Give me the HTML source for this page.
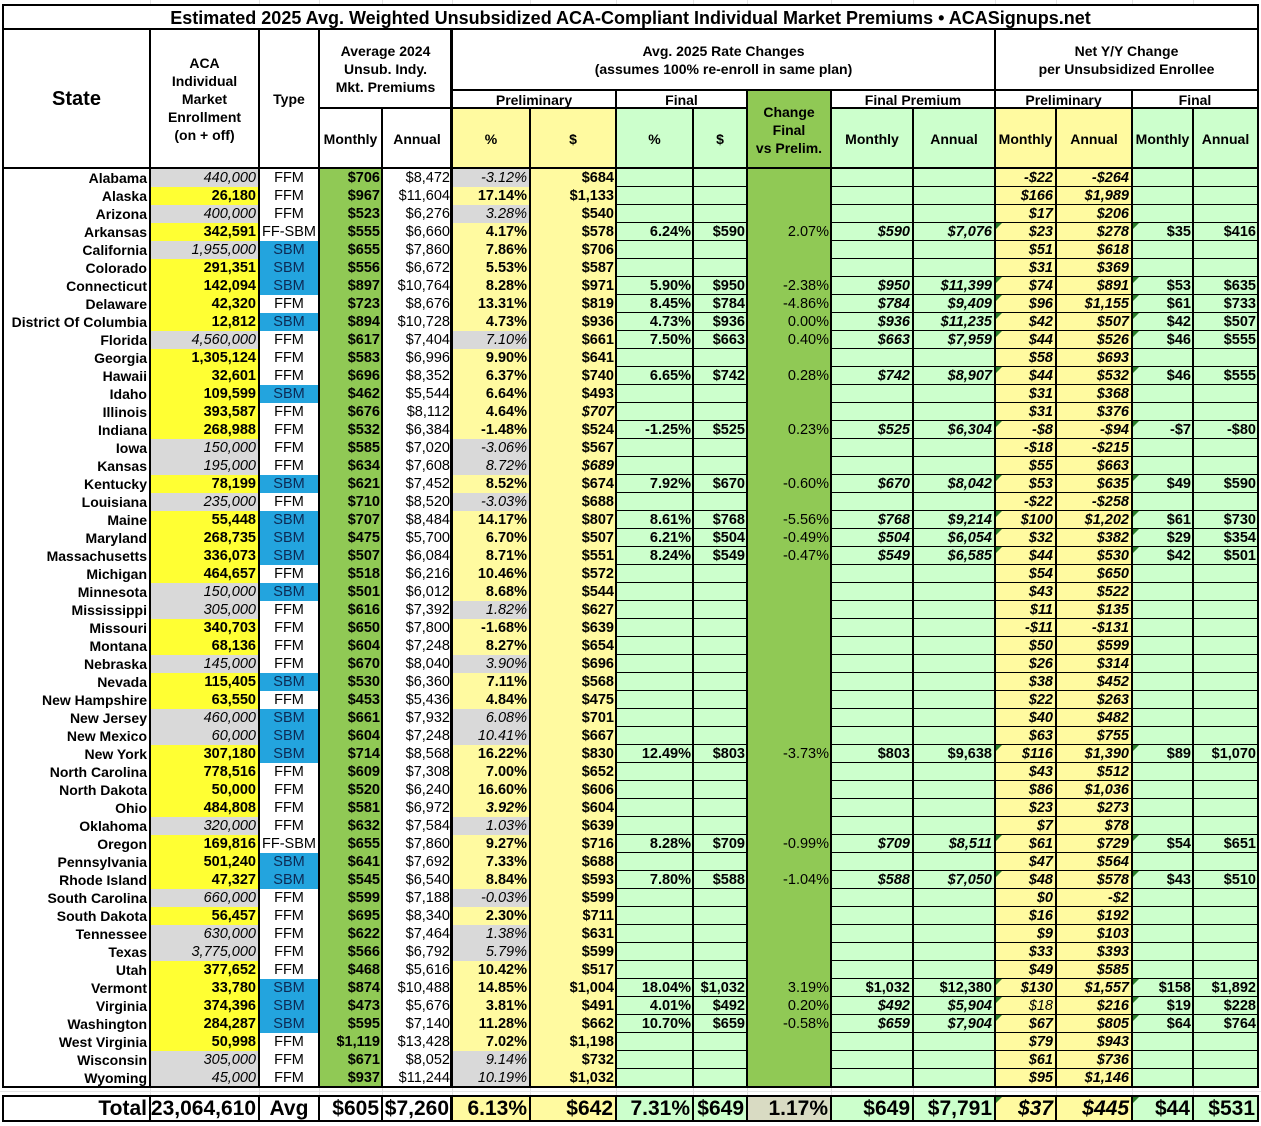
<!DOCTYPE html>
<html><head><meta charset="utf-8">
<style>
body{margin:0;width:1261px;height:1126px;position:relative;background:#fff;font-family:"Liberation Sans",Arial,sans-serif;overflow:hidden;color:#000}
.a{position:absolute}
.k{position:absolute;background:#000}
.gl{position:absolute;background:#e4e4e4}
.hd{position:absolute;font-size:14px;font-weight:bold;text-align:center;line-height:18px;white-space:nowrap}
.x0{left:3px;width:147px}.x1{left:150px;width:109px}.x2{left:259px;width:60px}.x3{left:319px;width:63px}
.x4{left:382px;width:70px}.x5{left:452px;width:78px}.x6{left:530px;width:86px}.x7{left:616px;width:77px}
.x8{left:693px;width:54px}.x9{left:747px;width:84px}.x10{left:831px;width:82px}.x11{left:913px;width:82px}
.x12{left:995px;width:61px}.x13{left:1056px;width:76px}.x14{left:1132px;width:61px}.x15{left:1193px;width:65px}
.r{position:absolute;left:0;width:1261px;height:18px}
.r>*{position:absolute;top:0;height:18px;line-height:18.5px;font-size:14.5px;text-align:right;padding-right:2px;box-sizing:border-box;white-space:nowrap}
.r .x0{font-size:14px;font-weight:bold;padding-right:3px}
.r .x1{background:#ffff33;font-weight:bold;padding-right:3px}
.r .x1.g{background:#d9d9d9;font-weight:normal;font-style:italic}
.r .x2{text-align:center;padding:0}
.r .x2.b{background:#23a4de;color:#0d2a55}
.r .x3{font-weight:bold}
.r .x5{background:#fffaa0;font-weight:bold;padding-right:3px}
.r .x5.g{background:#d9d9d9;font-weight:normal;font-style:italic}
.r .x6,.r .x7,.r .x8,.r .x14,.r .x15{font-weight:bold}
.r .x10,.r .x11,.r .x12,.r .x13{font-weight:bold;font-style:italic;padding-right:3px}
.r .it{font-style:italic}
.r .ni{font-style:normal}
.r .nb{font-weight:normal}
.tr{position:absolute;left:0;top:1095px;width:1261px;height:27px}
.tr>*{position:absolute;top:0;height:27px;line-height:28.5px;font-size:21px;font-weight:bold;text-align:right;padding-right:3px;box-sizing:border-box;white-space:nowrap}
.tri{position:absolute;width:0;height:0;border-top:6px solid #2a7d2a;border-right:6px solid transparent}
.lg{background:#ccffcc}.ly{background:#fffaa0}.dg{background:#90c955}
.lgl{background:repeating-linear-gradient(180deg,#ccffcc 0 17px,#000 17px 18px)}
.lyl{background:repeating-linear-gradient(180deg,#fffaa0 0 17px,#000 17px 18px)}
</style></head><body>

<!-- faint excel gridlines -->
<div class="gl" style="left:150px;top:0;width:1px;height:4px"></div>
<div class="gl" style="left:259px;top:0;width:1px;height:4px"></div>
<div class="gl" style="left:319px;top:0;width:1px;height:4px"></div>
<div class="gl" style="left:382px;top:0;width:1px;height:4px"></div>
<div class="gl" style="left:452px;top:0;width:1px;height:4px"></div>
<div class="gl" style="left:530px;top:0;width:1px;height:4px"></div>
<div class="gl" style="left:616px;top:0;width:1px;height:4px"></div>
<div class="gl" style="left:693px;top:0;width:1px;height:4px"></div>
<div class="gl" style="left:747px;top:0;width:1px;height:4px"></div>
<div class="gl" style="left:831px;top:0;width:1px;height:4px"></div>
<div class="gl" style="left:913px;top:0;width:1px;height:4px"></div>
<div class="gl" style="left:995px;top:0;width:1px;height:4px"></div>
<div class="gl" style="left:1056px;top:0;width:1px;height:4px"></div>
<div class="gl" style="left:1132px;top:0;width:1px;height:4px"></div>
<div class="gl" style="left:1193px;top:0;width:1px;height:4px"></div>
<div class="gl" style="left:150px;top:1088px;width:1px;height:7px"></div>
<div class="gl" style="left:259px;top:1088px;width:1px;height:7px"></div>
<div class="gl" style="left:319px;top:1088px;width:1px;height:7px"></div>
<div class="gl" style="left:382px;top:1088px;width:1px;height:7px"></div>
<div class="gl" style="left:452px;top:1088px;width:1px;height:7px"></div>
<div class="gl" style="left:530px;top:1088px;width:1px;height:7px"></div>
<div class="gl" style="left:616px;top:1088px;width:1px;height:7px"></div>
<div class="gl" style="left:693px;top:1088px;width:1px;height:7px"></div>
<div class="gl" style="left:747px;top:1088px;width:1px;height:7px"></div>
<div class="gl" style="left:831px;top:1088px;width:1px;height:7px"></div>
<div class="gl" style="left:913px;top:1088px;width:1px;height:7px"></div>
<div class="gl" style="left:995px;top:1088px;width:1px;height:7px"></div>
<div class="gl" style="left:1056px;top:1088px;width:1px;height:7px"></div>
<div class="gl" style="left:1132px;top:1088px;width:1px;height:7px"></div>
<div class="gl" style="left:1193px;top:1088px;width:1px;height:7px"></div>
<div class="gl" style="left:0;top:1091px;width:1261px;height:1px"></div>

<!-- header fills -->
<div class="a ly" style="left:452px;top:108px;width:164px;height:60px"></div>
<div class="a lg" style="left:616px;top:108px;width:131px;height:60px"></div>
<div class="a dg" style="left:747px;top:90px;width:84px;height:78px"></div>
<div class="a lg" style="left:831px;top:108px;width:164px;height:60px"></div>
<div class="a ly" style="left:995px;top:108px;width:137px;height:60px"></div>
<div class="a lg" style="left:1132px;top:108px;width:126px;height:60px"></div>

<!-- data column fills -->
<div class="a dg" style="left:319px;top:169px;width:63px;height:918px"></div>
<div class="a ly" style="left:530px;top:169px;width:86px;height:918px"></div>
<div class="a lgl" style="left:616px;top:169px;width:131px;height:918px"></div>
<div class="a dg" style="left:747px;top:169px;width:84px;height:918px"></div>
<div class="a lgl" style="left:831px;top:169px;width:164px;height:918px"></div>
<div class="a lyl" style="left:995px;top:169px;width:137px;height:918px"></div>
<div class="a lgl" style="left:1132px;top:169px;width:126px;height:918px"></div>

<!-- title -->
<div class="a" style="left:3px;top:7px;width:1255px;height:22px;line-height:22px;font-size:18px;font-weight:bold;text-align:center;white-space:nowrap">Estimated 2025 Avg. Weighted Unsubsidized ACA-Compliant Individual Market Premiums • ACASignups.net</div>

<!-- header text -->
<div class="hd" style="left:3px;top:87px;width:147px;font-size:20px;line-height:24px">State</div>
<div class="hd" style="left:150px;top:54px;width:109px">ACA<br>Individual<br>Market<br>Enrollment<br>(on + off)</div>
<div class="hd" style="left:259px;top:90px;width:60px">Type</div>
<div class="hd" style="left:319px;top:42px;width:133px">Average 2024<br>Unsub. Indy.<br>Mkt. Premiums</div>
<div class="hd" style="left:319px;top:130px;width:63px">Monthly</div>
<div class="hd" style="left:382px;top:130px;width:70px">Annual</div>
<div class="hd" style="left:452px;top:42px;width:543px">Avg. 2025 Rate Changes<br>(assumes 100% re-enroll in same plan)</div>
<div class="hd" style="left:452px;top:91px;width:164px">Preliminary</div>
<div class="hd" style="left:616px;top:91px;width:131px">Final</div>
<div class="hd" style="left:831px;top:91px;width:164px">Final Premium</div>
<div class="hd" style="left:747px;top:103px;width:84px">Change<br>Final<br>vs Prelim.</div>
<div class="hd" style="left:452px;top:130px;width:78px">%</div>
<div class="hd" style="left:530px;top:130px;width:86px">$</div>
<div class="hd" style="left:616px;top:130px;width:77px">%</div>
<div class="hd" style="left:693px;top:130px;width:54px">$</div>
<div class="hd" style="left:831px;top:130px;width:82px">Monthly</div>
<div class="hd" style="left:913px;top:130px;width:82px">Annual</div>
<div class="hd" style="left:995px;top:42px;width:263px">Net Y/Y Change<br>per Unsubsidized Enrollee</div>
<div class="hd" style="left:995px;top:91px;width:137px">Preliminary</div>
<div class="hd" style="left:1132px;top:91px;width:126px">Final</div>
<div class="hd" style="left:995px;top:130px;width:61px">Monthly</div>
<div class="hd" style="left:1056px;top:130px;width:76px">Annual</div>
<div class="hd" style="left:1132px;top:130px;width:61px">Monthly</div>
<div class="hd" style="left:1193px;top:130px;width:65px">Annual</div>

<!-- data rows -->
<div class="r" style="top:169px"><div class="x0">Alabama</div><div class="x1 g">440,000</div><div class="x2">FFM</div><div class="x3">$706</div><div class="x4">$8,472</div><div class="x5 g">-3.12%</div><div class="x6">$684</div><div class="x12">-$22</div><div class="x13">-$264</div></div>
<div class="r" style="top:187px"><div class="x0">Alaska</div><div class="x1">26,180</div><div class="x2">FFM</div><div class="x3">$967</div><div class="x4">$11,604</div><div class="x5">17.14%</div><div class="x6">$1,133</div><div class="x12">$166</div><div class="x13">$1,989</div></div>
<div class="r" style="top:205px"><div class="x0">Arizona</div><div class="x1 g">400,000</div><div class="x2">FFM</div><div class="x3">$523</div><div class="x4">$6,276</div><div class="x5 g">3.28%</div><div class="x6">$540</div><div class="x12">$17</div><div class="x13">$206</div></div>
<div class="r" style="top:223px"><div class="x0">Arkansas</div><div class="x1">342,591</div><div class="x2">FF-SBM</div><div class="x3">$555</div><div class="x4">$6,660</div><div class="x5">4.17%</div><div class="x6">$578</div><div class="x7">6.24%</div><div class="x8">$590</div><div class="x9">2.07%</div><div class="x10">$590</div><div class="x11">$7,076</div><div class="x12">$23</div><div class="x13">$278</div><div class="x14">$35</div><div class="x15">$416</div></div>
<div class="r" style="top:241px"><div class="x0">California</div><div class="x1 g">1,955,000</div><div class="x2 b">SBM</div><div class="x3">$655</div><div class="x4">$7,860</div><div class="x5">7.86%</div><div class="x6">$706</div><div class="x12">$51</div><div class="x13">$618</div></div>
<div class="r" style="top:259px"><div class="x0">Colorado</div><div class="x1">291,351</div><div class="x2 b">SBM</div><div class="x3">$556</div><div class="x4">$6,672</div><div class="x5">5.53%</div><div class="x6">$587</div><div class="x12">$31</div><div class="x13">$369</div></div>
<div class="r" style="top:277px"><div class="x0">Connecticut</div><div class="x1">142,094</div><div class="x2 b">SBM</div><div class="x3">$897</div><div class="x4">$10,764</div><div class="x5">8.28%</div><div class="x6">$971</div><div class="x7">5.90%</div><div class="x8">$950</div><div class="x9">-2.38%</div><div class="x10">$950</div><div class="x11">$11,399</div><div class="x12">$74</div><div class="x13">$891</div><div class="x14">$53</div><div class="x15">$635</div></div>
<div class="r" style="top:295px"><div class="x0">Delaware</div><div class="x1">42,320</div><div class="x2">FFM</div><div class="x3">$723</div><div class="x4">$8,676</div><div class="x5">13.31%</div><div class="x6">$819</div><div class="x7">8.45%</div><div class="x8">$784</div><div class="x9">-4.86%</div><div class="x10">$784</div><div class="x11">$9,409</div><div class="x12">$96</div><div class="x13">$1,155</div><div class="x14">$61</div><div class="x15">$733</div></div>
<div class="r" style="top:313px"><div class="x0">District Of Columbia</div><div class="x1">12,812</div><div class="x2 b">SBM</div><div class="x3">$894</div><div class="x4">$10,728</div><div class="x5">4.73%</div><div class="x6">$936</div><div class="x7">4.73%</div><div class="x8">$936</div><div class="x9">0.00%</div><div class="x10">$936</div><div class="x11">$11,235</div><div class="x12">$42</div><div class="x13">$507</div><div class="x14">$42</div><div class="x15">$507</div></div>
<div class="r" style="top:331px"><div class="x0">Florida</div><div class="x1 g">4,560,000</div><div class="x2">FFM</div><div class="x3">$617</div><div class="x4">$7,404</div><div class="x5 g">7.10%</div><div class="x6">$661</div><div class="x7">7.50%</div><div class="x8">$663</div><div class="x9">0.40%</div><div class="x10">$663</div><div class="x11">$7,959</div><div class="x12">$44</div><div class="x13">$526</div><div class="x14">$46</div><div class="x15">$555</div></div>
<div class="r" style="top:349px"><div class="x0">Georgia</div><div class="x1">1,305,124</div><div class="x2">FFM</div><div class="x3">$583</div><div class="x4">$6,996</div><div class="x5">9.90%</div><div class="x6">$641</div><div class="x12">$58</div><div class="x13">$693</div></div>
<div class="r" style="top:367px"><div class="x0">Hawaii</div><div class="x1">32,601</div><div class="x2">FFM</div><div class="x3">$696</div><div class="x4">$8,352</div><div class="x5">6.37%</div><div class="x6">$740</div><div class="x7">6.65%</div><div class="x8">$742</div><div class="x9">0.28%</div><div class="x10">$742</div><div class="x11">$8,907</div><div class="x12">$44</div><div class="x13">$532</div><div class="x14">$46</div><div class="x15">$555</div></div>
<div class="r" style="top:385px"><div class="x0">Idaho</div><div class="x1">109,599</div><div class="x2 b">SBM</div><div class="x3">$462</div><div class="x4">$5,544</div><div class="x5">6.64%</div><div class="x6">$493</div><div class="x12">$31</div><div class="x13">$368</div></div>
<div class="r" style="top:403px"><div class="x0">Illinois</div><div class="x1">393,587</div><div class="x2">FFM</div><div class="x3">$676</div><div class="x4">$8,112</div><div class="x5">4.64%</div><div class="x6 it">$707</div><div class="x12">$31</div><div class="x13">$376</div></div>
<div class="r" style="top:421px"><div class="x0">Indiana</div><div class="x1">268,988</div><div class="x2">FFM</div><div class="x3">$532</div><div class="x4">$6,384</div><div class="x5">-1.48%</div><div class="x6">$524</div><div class="x7">-1.25%</div><div class="x8">$525</div><div class="x9">0.23%</div><div class="x10">$525</div><div class="x11">$6,304</div><div class="x12">-$8</div><div class="x13">-$94</div><div class="x14">-$7</div><div class="x15">-$80</div></div>
<div class="r" style="top:439px"><div class="x0">Iowa</div><div class="x1 g">150,000</div><div class="x2">FFM</div><div class="x3">$585</div><div class="x4">$7,020</div><div class="x5 g">-3.06%</div><div class="x6">$567</div><div class="x12">-$18</div><div class="x13">-$215</div></div>
<div class="r" style="top:457px"><div class="x0">Kansas</div><div class="x1 g">195,000</div><div class="x2">FFM</div><div class="x3">$634</div><div class="x4">$7,608</div><div class="x5 g">8.72%</div><div class="x6 it">$689</div><div class="x12">$55</div><div class="x13">$663</div></div>
<div class="r" style="top:475px"><div class="x0">Kentucky</div><div class="x1">78,199</div><div class="x2 b">SBM</div><div class="x3">$621</div><div class="x4">$7,452</div><div class="x5">8.52%</div><div class="x6">$674</div><div class="x7">7.92%</div><div class="x8">$670</div><div class="x9">-0.60%</div><div class="x10">$670</div><div class="x11">$8,042</div><div class="x12">$53</div><div class="x13">$635</div><div class="x14">$49</div><div class="x15">$590</div></div>
<div class="r" style="top:493px"><div class="x0">Louisiana</div><div class="x1 g">235,000</div><div class="x2">FFM</div><div class="x3">$710</div><div class="x4">$8,520</div><div class="x5 g">-3.03%</div><div class="x6">$688</div><div class="x12">-$22</div><div class="x13">-$258</div></div>
<div class="r" style="top:511px"><div class="x0">Maine</div><div class="x1">55,448</div><div class="x2 b">SBM</div><div class="x3">$707</div><div class="x4">$8,484</div><div class="x5">14.17%</div><div class="x6">$807</div><div class="x7">8.61%</div><div class="x8">$768</div><div class="x9">-5.56%</div><div class="x10">$768</div><div class="x11">$9,214</div><div class="x12">$100</div><div class="x13">$1,202</div><div class="x14">$61</div><div class="x15">$730</div></div>
<div class="r" style="top:529px"><div class="x0">Maryland</div><div class="x1">268,735</div><div class="x2 b">SBM</div><div class="x3">$475</div><div class="x4">$5,700</div><div class="x5">6.70%</div><div class="x6">$507</div><div class="x7">6.21%</div><div class="x8">$504</div><div class="x9">-0.49%</div><div class="x10">$504</div><div class="x11">$6,054</div><div class="x12">$32</div><div class="x13">$382</div><div class="x14">$29</div><div class="x15">$354</div></div>
<div class="r" style="top:547px"><div class="x0">Massachusetts</div><div class="x1">336,073</div><div class="x2 b">SBM</div><div class="x3">$507</div><div class="x4">$6,084</div><div class="x5">8.71%</div><div class="x6">$551</div><div class="x7">8.24%</div><div class="x8">$549</div><div class="x9">-0.47%</div><div class="x10">$549</div><div class="x11">$6,585</div><div class="x12">$44</div><div class="x13">$530</div><div class="x14">$42</div><div class="x15">$501</div></div>
<div class="r" style="top:565px"><div class="x0">Michigan</div><div class="x1">464,657</div><div class="x2">FFM</div><div class="x3">$518</div><div class="x4">$6,216</div><div class="x5">10.46%</div><div class="x6">$572</div><div class="x12">$54</div><div class="x13">$650</div></div>
<div class="r" style="top:583px"><div class="x0">Minnesota</div><div class="x1 g">150,000</div><div class="x2 b">SBM</div><div class="x3">$501</div><div class="x4">$6,012</div><div class="x5">8.68%</div><div class="x6">$544</div><div class="x12">$43</div><div class="x13">$522</div></div>
<div class="r" style="top:601px"><div class="x0">Mississippi</div><div class="x1 g">305,000</div><div class="x2">FFM</div><div class="x3">$616</div><div class="x4">$7,392</div><div class="x5 g">1.82%</div><div class="x6">$627</div><div class="x12">$11</div><div class="x13">$135</div></div>
<div class="r" style="top:619px"><div class="x0">Missouri</div><div class="x1">340,703</div><div class="x2">FFM</div><div class="x3">$650</div><div class="x4">$7,800</div><div class="x5">-1.68%</div><div class="x6">$639</div><div class="x12">-$11</div><div class="x13">-$131</div></div>
<div class="r" style="top:637px"><div class="x0">Montana</div><div class="x1">68,136</div><div class="x2">FFM</div><div class="x3">$604</div><div class="x4">$7,248</div><div class="x5">8.27%</div><div class="x6">$654</div><div class="x12">$50</div><div class="x13">$599</div></div>
<div class="r" style="top:655px"><div class="x0">Nebraska</div><div class="x1 g">145,000</div><div class="x2">FFM</div><div class="x3">$670</div><div class="x4">$8,040</div><div class="x5 g">3.90%</div><div class="x6">$696</div><div class="x12">$26</div><div class="x13">$314</div></div>
<div class="r" style="top:673px"><div class="x0">Nevada</div><div class="x1">115,405</div><div class="x2 b">SBM</div><div class="x3">$530</div><div class="x4">$6,360</div><div class="x5">7.11%</div><div class="x6">$568</div><div class="x12">$38</div><div class="x13">$452</div></div>
<div class="r" style="top:691px"><div class="x0">New Hampshire</div><div class="x1">63,550</div><div class="x2">FFM</div><div class="x3">$453</div><div class="x4">$5,436</div><div class="x5">4.84%</div><div class="x6">$475</div><div class="x12">$22</div><div class="x13">$263</div></div>
<div class="r" style="top:709px"><div class="x0">New Jersey</div><div class="x1 g">460,000</div><div class="x2 b">SBM</div><div class="x3">$661</div><div class="x4">$7,932</div><div class="x5 g">6.08%</div><div class="x6">$701</div><div class="x12">$40</div><div class="x13">$482</div></div>
<div class="r" style="top:727px"><div class="x0">New Mexico</div><div class="x1 g">60,000</div><div class="x2 b">SBM</div><div class="x3">$604</div><div class="x4">$7,248</div><div class="x5 g">10.41%</div><div class="x6">$667</div><div class="x12">$63</div><div class="x13">$755</div></div>
<div class="r" style="top:745px"><div class="x0">New York</div><div class="x1">307,180</div><div class="x2 b">SBM</div><div class="x3">$714</div><div class="x4">$8,568</div><div class="x5">16.22%</div><div class="x6">$830</div><div class="x7">12.49%</div><div class="x8">$803</div><div class="x9">-3.73%</div><div class="x10 ni">$803</div><div class="x11 ni">$9,638</div><div class="x12">$116</div><div class="x13">$1,390</div><div class="x14">$89</div><div class="x15">$1,070</div></div>
<div class="r" style="top:763px"><div class="x0">North Carolina</div><div class="x1">778,516</div><div class="x2">FFM</div><div class="x3">$609</div><div class="x4">$7,308</div><div class="x5">7.00%</div><div class="x6">$652</div><div class="x12">$43</div><div class="x13">$512</div></div>
<div class="r" style="top:781px"><div class="x0">North Dakota</div><div class="x1">50,000</div><div class="x2">FFM</div><div class="x3">$520</div><div class="x4">$6,240</div><div class="x5">16.60%</div><div class="x6">$606</div><div class="x12">$86</div><div class="x13">$1,036</div></div>
<div class="r" style="top:799px"><div class="x0">Ohio</div><div class="x1">484,808</div><div class="x2">FFM</div><div class="x3">$581</div><div class="x4">$6,972</div><div class="x5 it">3.92%</div><div class="x6">$604</div><div class="x12">$23</div><div class="x13">$273</div></div>
<div class="r" style="top:817px"><div class="x0">Oklahoma</div><div class="x1 g">320,000</div><div class="x2">FFM</div><div class="x3">$632</div><div class="x4">$7,584</div><div class="x5 g">1.03%</div><div class="x6">$639</div><div class="x12">$7</div><div class="x13">$78</div></div>
<div class="r" style="top:835px"><div class="x0">Oregon</div><div class="x1">169,816</div><div class="x2">FF-SBM</div><div class="x3">$655</div><div class="x4">$7,860</div><div class="x5">9.27%</div><div class="x6">$716</div><div class="x7">8.28%</div><div class="x8">$709</div><div class="x9">-0.99%</div><div class="x10">$709</div><div class="x11">$8,511</div><div class="x12">$61</div><div class="x13">$729</div><div class="x14">$54</div><div class="x15">$651</div></div>
<div class="r" style="top:853px"><div class="x0">Pennsylvania</div><div class="x1">501,240</div><div class="x2 b">SBM</div><div class="x3">$641</div><div class="x4">$7,692</div><div class="x5">7.33%</div><div class="x6">$688</div><div class="x12">$47</div><div class="x13">$564</div></div>
<div class="r" style="top:871px"><div class="x0">Rhode Island</div><div class="x1">47,327</div><div class="x2 b">SBM</div><div class="x3">$545</div><div class="x4">$6,540</div><div class="x5">8.84%</div><div class="x6">$593</div><div class="x7">7.80%</div><div class="x8">$588</div><div class="x9">-1.04%</div><div class="x10">$588</div><div class="x11">$7,050</div><div class="x12">$48</div><div class="x13">$578</div><div class="x14">$43</div><div class="x15">$510</div></div>
<div class="r" style="top:889px"><div class="x0">South Carolina</div><div class="x1 g">660,000</div><div class="x2">FFM</div><div class="x3">$599</div><div class="x4">$7,188</div><div class="x5 g">-0.03%</div><div class="x6">$599</div><div class="x12">$0</div><div class="x13">-$2</div></div>
<div class="r" style="top:907px"><div class="x0">South Dakota</div><div class="x1">56,457</div><div class="x2">FFM</div><div class="x3">$695</div><div class="x4">$8,340</div><div class="x5">2.30%</div><div class="x6">$711</div><div class="x12">$16</div><div class="x13">$192</div></div>
<div class="r" style="top:925px"><div class="x0">Tennessee</div><div class="x1 g">630,000</div><div class="x2">FFM</div><div class="x3">$622</div><div class="x4">$7,464</div><div class="x5 g">1.38%</div><div class="x6">$631</div><div class="x12">$9</div><div class="x13">$103</div></div>
<div class="r" style="top:943px"><div class="x0">Texas</div><div class="x1 g">3,775,000</div><div class="x2">FFM</div><div class="x3">$566</div><div class="x4">$6,792</div><div class="x5 g">5.79%</div><div class="x6">$599</div><div class="x12">$33</div><div class="x13">$393</div></div>
<div class="r" style="top:961px"><div class="x0">Utah</div><div class="x1">377,652</div><div class="x2">FFM</div><div class="x3">$468</div><div class="x4">$5,616</div><div class="x5">10.42%</div><div class="x6">$517</div><div class="x12">$49</div><div class="x13">$585</div></div>
<div class="r" style="top:979px"><div class="x0">Vermont</div><div class="x1">33,780</div><div class="x2 b">SBM</div><div class="x3">$874</div><div class="x4">$10,488</div><div class="x5">14.85%</div><div class="x6">$1,004</div><div class="x7">18.04%</div><div class="x8">$1,032</div><div class="x9">3.19%</div><div class="x10 ni">$1,032</div><div class="x11 ni">$12,380</div><div class="x12">$130</div><div class="x13">$1,557</div><div class="x14">$158</div><div class="x15">$1,892</div></div>
<div class="r" style="top:997px"><div class="x0">Virginia</div><div class="x1">374,396</div><div class="x2 b">SBM</div><div class="x3">$473</div><div class="x4">$5,676</div><div class="x5">3.81%</div><div class="x6">$491</div><div class="x7">4.01%</div><div class="x8">$492</div><div class="x9">0.20%</div><div class="x10">$492</div><div class="x11">$5,904</div><div class="x12 nb">$18</div><div class="x13">$216</div><div class="x14">$19</div><div class="x15">$228</div></div>
<div class="r" style="top:1015px"><div class="x0">Washington</div><div class="x1">284,287</div><div class="x2 b">SBM</div><div class="x3">$595</div><div class="x4">$7,140</div><div class="x5">11.28%</div><div class="x6">$662</div><div class="x7">10.70%</div><div class="x8">$659</div><div class="x9">-0.58%</div><div class="x10">$659</div><div class="x11">$7,904</div><div class="x12">$67</div><div class="x13">$805</div><div class="x14">$64</div><div class="x15">$764</div></div>
<div class="r" style="top:1033px"><div class="x0">West Virginia</div><div class="x1">50,998</div><div class="x2">FFM</div><div class="x3">$1,119</div><div class="x4">$13,428</div><div class="x5">7.02%</div><div class="x6">$1,198</div><div class="x12">$79</div><div class="x13">$943</div></div>
<div class="r" style="top:1051px"><div class="x0">Wisconsin</div><div class="x1 g">305,000</div><div class="x2">FFM</div><div class="x3">$671</div><div class="x4">$8,052</div><div class="x5 g">9.14%</div><div class="x6">$732</div><div class="x12">$61</div><div class="x13">$736</div></div>
<div class="r" style="top:1069px"><div class="x0">Wyoming</div><div class="x1 g">45,000</div><div class="x2">FFM</div><div class="x3">$937</div><div class="x4">$11,244</div><div class="x5 g">10.19%</div><div class="x6">$1,032</div><div class="x12">$95</div><div class="x13">$1,146</div></div>

<!-- total row -->
<div class="tr">
<div class="x0">Total</div>
<div class="x1">23,064,610</div>
<div class="x2" style="text-align:center;padding:0">Avg</div>
<div class="x3">$605</div>
<div class="x4">$7,260</div>
<div class="x5 ly">6.13%</div>
<div class="x6 ly">$642</div>
<div class="x7 lg">7.31%</div>
<div class="x8 lg">$649</div>
<div class="x9" style="background:#d9dbc3">1.17%</div>
<div class="x10 lg">$649</div>
<div class="x11 lg">$7,791</div>
<div class="x12 ly" style="font-style:italic">$37</div>
<div class="x13 ly" style="font-style:italic">$445</div>
<div class="x14 lg">$44</div>
<div class="x15 lg">$531</div>
</div>

<!-- main table lines -->
<div class="k" style="left:2px;top:4px;width:1257px;height:2px"></div>
<div class="k" style="left:2px;top:28px;width:1257px;height:2px"></div>
<div class="k" style="left:2px;top:4px;width:2px;height:1084px"></div>
<div class="k" style="left:1257px;top:4px;width:2px;height:1084px"></div>
<div class="k" style="left:149px;top:29px;width:2px;height:1059px"></div>
<div class="k" style="left:258px;top:29px;width:2px;height:1059px"></div>
<div class="k" style="left:318px;top:29px;width:2px;height:1059px"></div>
<div class="k" style="left:381px;top:108px;width:2px;height:980px"></div>
<div class="k" style="left:450px;top:29px;width:3px;height:1059px"></div>
<div class="k" style="left:529px;top:108px;width:2px;height:980px"></div>
<div class="k" style="left:615px;top:90px;width:2px;height:998px"></div>
<div class="k" style="left:692px;top:108px;width:2px;height:980px"></div>
<div class="k" style="left:746px;top:90px;width:2px;height:998px"></div>
<div class="k" style="left:830px;top:90px;width:2px;height:998px"></div>
<div class="k" style="left:912px;top:108px;width:2px;height:980px"></div>
<div class="k" style="left:994px;top:29px;width:2px;height:1059px"></div>
<div class="k" style="left:1055px;top:108px;width:2px;height:980px"></div>
<div class="k" style="left:1131px;top:90px;width:2px;height:998px"></div>
<div class="k" style="left:1192px;top:108px;width:2px;height:980px"></div>
<div class="k" style="left:451px;top:89px;width:807px;height:2px"></div>
<div class="k" style="left:318px;top:107px;width:134px;height:2px"></div>
<div class="k" style="left:451px;top:107px;width:296px;height:2px"></div>
<div class="k" style="left:830px;top:107px;width:428px;height:2px"></div>
<div class="k" style="left:2px;top:167px;width:1257px;height:2px"></div>
<div class="k" style="left:2px;top:1086px;width:1257px;height:2px"></div>

<!-- total row lines -->
<div class="k" style="left:2px;top:1095px;width:1257px;height:2px"></div>
<div class="k" style="left:2px;top:1120px;width:1257px;height:2px"></div>
<div class="k" style="left:2px;top:1095px;width:2px;height:27px"></div>
<div class="k" style="left:1257px;top:1095px;width:2px;height:27px"></div>
<div class="k" style="left:149px;top:1095px;width:2px;height:27px"></div>
<div class="k" style="left:258px;top:1095px;width:2px;height:27px"></div>
<div class="k" style="left:318px;top:1095px;width:2px;height:27px"></div>
<div class="k" style="left:381px;top:1095px;width:2px;height:27px"></div>
<div class="k" style="left:450px;top:1095px;width:3px;height:27px"></div>
<div class="k" style="left:529px;top:1095px;width:2px;height:27px"></div>
<div class="k" style="left:615px;top:1095px;width:2px;height:27px"></div>
<div class="k" style="left:692px;top:1095px;width:2px;height:27px"></div>
<div class="k" style="left:746px;top:1095px;width:2px;height:27px"></div>
<div class="k" style="left:830px;top:1095px;width:2px;height:27px"></div>
<div class="k" style="left:912px;top:1095px;width:2px;height:27px"></div>
<div class="k" style="left:994px;top:1095px;width:2px;height:27px"></div>
<div class="k" style="left:1055px;top:1095px;width:2px;height:27px"></div>
<div class="k" style="left:1131px;top:1095px;width:2px;height:27px"></div>
<div class="k" style="left:1192px;top:1095px;width:2px;height:27px"></div>

<!-- excel indicator triangles -->
<div class="tri" style="left:996px;top:223px"></div><div class="tri" style="left:1133px;top:223px"></div>
<div class="tri" style="left:996px;top:277px"></div><div class="tri" style="left:1133px;top:277px"></div>
<div class="tri" style="left:996px;top:295px"></div><div class="tri" style="left:1133px;top:295px"></div>
<div class="tri" style="left:996px;top:313px"></div><div class="tri" style="left:1133px;top:313px"></div>
<div class="tri" style="left:996px;top:331px"></div><div class="tri" style="left:1133px;top:331px"></div>
<div class="tri" style="left:996px;top:367px"></div><div class="tri" style="left:1133px;top:367px"></div>
<div class="tri" style="left:996px;top:421px"></div><div class="tri" style="left:1133px;top:421px"></div>
<div class="tri" style="left:996px;top:475px"></div><div class="tri" style="left:1133px;top:475px"></div>
<div class="tri" style="left:996px;top:511px"></div><div class="tri" style="left:1133px;top:511px"></div>
<div class="tri" style="left:996px;top:529px"></div><div class="tri" style="left:1133px;top:529px"></div>
<div class="tri" style="left:996px;top:547px"></div><div class="tri" style="left:1133px;top:547px"></div>
<div class="tri" style="left:996px;top:745px"></div><div class="tri" style="left:1133px;top:745px"></div>
<div class="tri" style="left:996px;top:835px"></div><div class="tri" style="left:1133px;top:835px"></div>
<div class="tri" style="left:996px;top:871px"></div><div class="tri" style="left:1133px;top:871px"></div>
<div class="tri" style="left:996px;top:979px"></div><div class="tri" style="left:1133px;top:979px"></div>
<div class="tri" style="left:996px;top:997px"></div><div class="tri" style="left:1133px;top:997px"></div>
<div class="tri" style="left:996px;top:1015px"></div><div class="tri" style="left:1133px;top:1015px"></div>
<div class="tri" style="left:996px;top:1097px"></div><div class="tri" style="left:1133px;top:1097px"></div>

</body></html>
